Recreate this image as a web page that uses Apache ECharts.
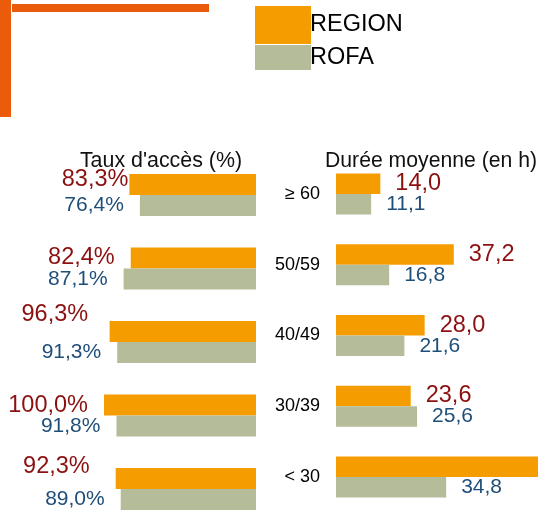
<!DOCTYPE html>
<html>
<head>
<meta charset="utf-8">
<script src="https://cdn.jsdelivr.net/npm/echarts@6/dist/echarts.min.js"></script>
<style>
html,body{margin:0;padding:0;background:#fff;}
#chart{width:538px;height:511px;}
</style>
</head>
<body>
<div id="chart"></div>
<script>
// ---- data ----
const categories = ['≥ 60', '50/59', '40/49', '30/39', '< 30'];
const seriesNames = ['REGION', 'ROFA'];
const tauxRegion = [83.3, 82.4, 96.3, 100.0, 92.3];
const tauxRofa = [76.4, 87.1, 91.3, 91.8, 89.0];
const dureeRegion = [14.0, 37.2, 28.0, 23.6, 66.0];
const dureeRofa = [11.1, 16.8, 21.6, 25.6, 34.8];
const titleLeft = "Taux d'accès (%)";
const titleRight = 'Durée moyenne (en h)';

// ---- layout / style ----
const FONT = '"Liberation Sans", Arial, sans-serif';
const ORANGE = '#F59C00';
const GREY = '#B5BC99';
const RED = '#8B1010';
const BLUE = '#1F4E79';
const DECOR = '#EA5B0C';
// manual label nudges for the left REGION labels (as in the original)
const leftRedNudge = [[15, -4.5], [0, 0], [-5.5, -16.5], [0, 0.5], [-10, -12]];

const fmtPct = v => v.toFixed(1).replace('.', ',') + '%';
const fmtH = v => v.toFixed(1).replace('.', ',');

const chart = echarts.init(document.getElementById('chart'), null, {renderer: 'canvas'});

const option = {
  animation: false,
  backgroundColor: '#fff',
  textStyle: {fontFamily: FONT},
  graphic: [
    {type: 'rect', shape: {x: 0, y: 0, width: 11, height: 117}, style: {fill: DECOR}},
    {type: 'rect', shape: {x: 12, y: 4, width: 197, height: 8}, style: {fill: DECOR}},
    {type: 'text', x: 161, y: 161.5, style: {text: titleLeft, font: '21.4px ' + FONT, fill: '#111', align: 'center', verticalAlign: 'middle'}},
    {type: 'text', x: 431, y: 161.5, style: {text: titleRight, font: '21.2px ' + FONT, fill: '#111', align: 'center', verticalAlign: 'middle'}}
  ],
  legend: [
    {data: [seriesNames[0]], left: 255, top: 6, padding: 0, itemWidth: 56, itemHeight: 38, icon: 'rect', itemGap: 0,
     itemStyle: {color: ORANGE, borderWidth: 0},
     textStyle: {fontSize: 23.5, color: '#000', fontFamily: FONT, padding: [0, 0, 2, -6]}, selectedMode: false},
    {data: [seriesNames[1]], left: 255, top: 45, padding: 0, itemWidth: 56, itemHeight: 25, icon: 'rect', itemGap: 0,
     itemStyle: {color: GREY, borderWidth: 0},
     textStyle: {fontSize: 23.5, color: '#000', fontFamily: FONT, padding: [0, 0, 5, -6]}, selectedMode: false}
  ],
  grid: [
    {left: 104, width: 152, top: 158.25, height: 367.5, outerBoundsMode: 'none', containLabel: false},
    {left: 336, width: 202, top: 158.6, height: 353.8, outerBoundsMode: 'none', containLabel: false}
  ],
  xAxis: [
    {type: 'value', gridIndex: 0, min: 0, max: 100, inverse: true, show: false},
    {type: 'value', gridIndex: 1, min: 0, max: 63.8, show: false}
  ],
  yAxis: [
    {type: 'category', gridIndex: 0, data: categories, inverse: true, show: false},
    {type: 'category', gridIndex: 1, data: categories, inverse: true,
     axisLine: {show: false}, axisTick: {show: false}, splitLine: {show: false},
     axisLabel: {show: true, margin: 16, fontSize: 18, color: '#000', fontFamily: FONT, align: 'right'}}
  ],
  series: [
    {
      name: seriesNames[0], type: 'bar', xAxisIndex: 0, yAxisIndex: 0, barWidth: 21, barGap: '0%',
      itemStyle: {color: ORANGE},
      label: {show: true, position: 'left', distance: 16, color: RED, fontSize: 23.5, fontFamily: FONT,
              formatter: p => fmtPct(p.value)},
      data: tauxRegion.map((v, i) => ({value: v, label: {offset: leftRedNudge[i]}}))
    },
    {
      name: seriesNames[1], type: 'bar', xAxisIndex: 0, yAxisIndex: 0, barWidth: 21, barGap: '0%',
      itemStyle: {color: GREY},
      label: {show: true, position: 'left', distance: 16, color: BLUE, fontSize: 21, fontFamily: FONT,
              formatter: p => fmtPct(p.value)},
      data: tauxRofa
    },
    {
      name: seriesNames[0], type: 'bar', xAxisIndex: 1, yAxisIndex: 1, barWidth: 20.5, barGap: '0%',
      itemStyle: {color: ORANGE},
      label: {show: true, position: 'right', distance: 15, color: RED, fontSize: 23.5, fontFamily: FONT,
              formatter: p => fmtH(p.value)},
      data: dureeRegion
    },
    {
      name: seriesNames[1], type: 'bar', xAxisIndex: 1, yAxisIndex: 1, barWidth: 20.5, barGap: '0%',
      itemStyle: {color: GREY},
      label: {show: true, position: 'right', distance: 15, color: BLUE, fontSize: 21, fontFamily: FONT,
              formatter: p => fmtH(p.value)},
      data: dureeRofa
    }
  ]
};
chart.setOption(option);
</script>
</body>
</html>
